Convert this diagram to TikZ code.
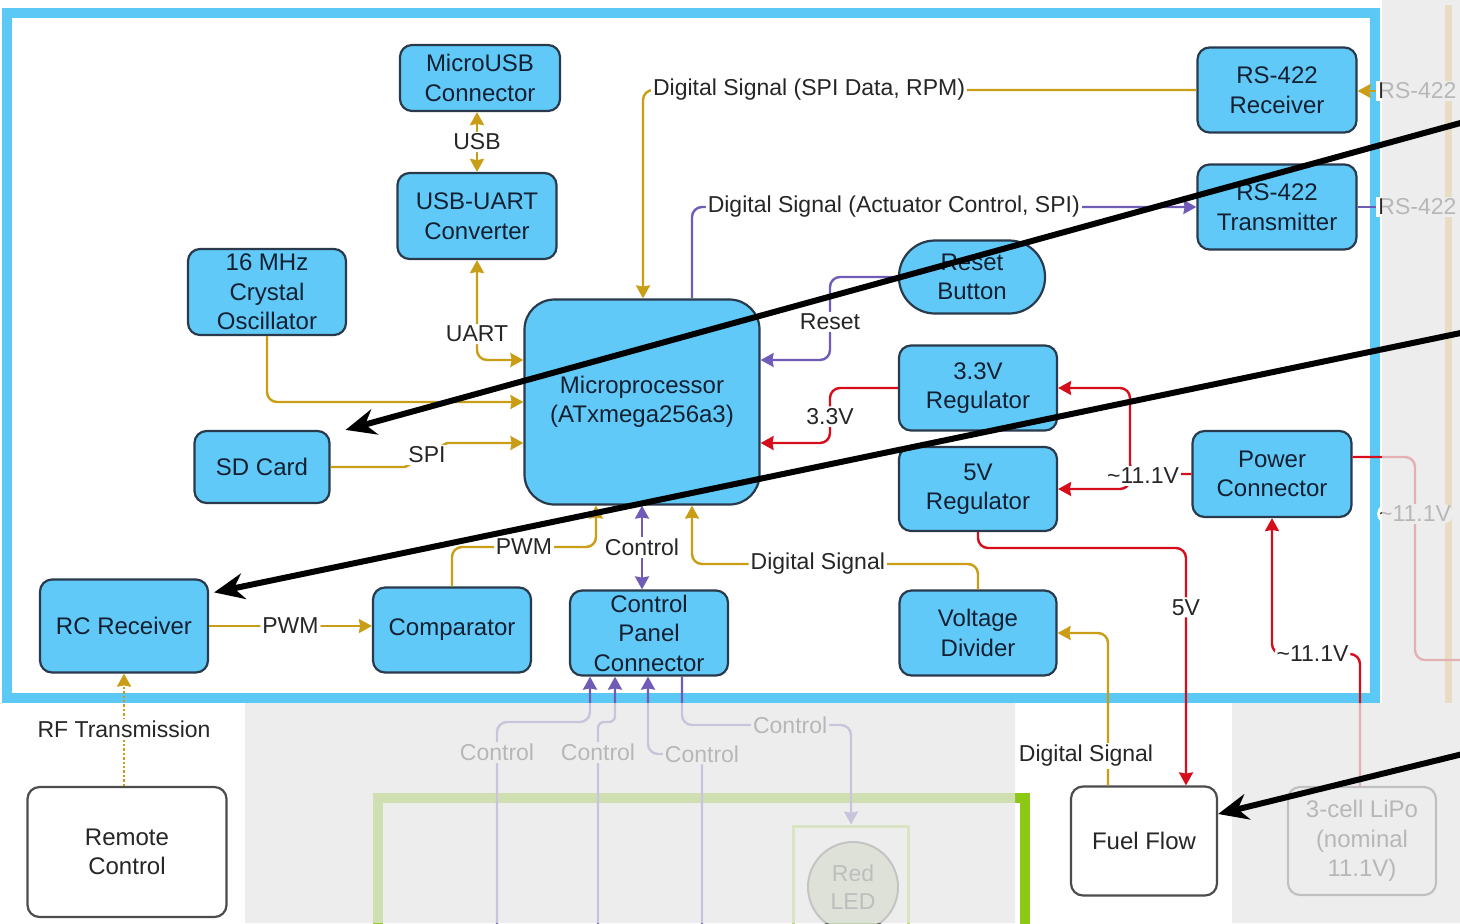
\documentclass[tikz,border=0pt]{standalone}
\usepackage{fontspec}
\setmainfont{Liberation Sans}
\usetikzlibrary{arrows.meta}

\definecolor{boxblue}{RGB}{96,201,247}
\definecolor{boxline}{RGB}{40,58,76}
\definecolor{boxtext}{RGB}{18,32,50}
\definecolor{framecol}{RGB}{92,200,246}
\definecolor{sig}{RGB}{201,158,22}
\definecolor{ctl}{RGB}{112,92,182}
\definecolor{pwr}{RGB}{214,14,28}
\definecolor{fadegray}{RGB}{232,232,232}
\definecolor{ledgreen}{RGB}{140,200,20}
\definecolor{ledfill}{RGB}{192,208,168}
\definecolor{railtan}{RGB}{232,192,90}

\begin{document}
\begin{tikzpicture}
   [x=0.5pt, y=-0.5pt, >={Stealth[length=6.5pt,width=7pt,inset=0.6pt]},
    main node/.style={draw=boxline, fill=boxblue, text=boxtext, line width=1.1pt, rounded corners=6pt,
                      align=center, inner sep=0pt, font=\fontsize{12}{14.75}\selectfont},
    plain node/.style={main node, draw=black!70, fill=white, text=black!85},
    wire label/.style={fill=white, inner sep=1pt, text=black!85, font=\fontsize{11.5}{14}\selectfont},
    wire/.style={line width=1.2pt, rounded corners=5pt},
    pointer arrow/.style={line width=3pt, -{Stealth[length=15pt,width=13pt]}}]

   \useasboundingbox (0,0) rectangle (1460,923);
   \fill[white] (0,0) rectangle (1460,923);
   \draw[framecol, line width=5pt] (7,13) rectangle (1375,698);

   \node[main node, minimum width=80pt, minimum height=33pt] (usbconn) at (480,78) {MicroUSB\\Connector};
   \node[main node, minimum width=79.5pt, minimum height=43pt] (usbuart) at (477,216) {USB-UART\\Converter};
   \node[main node, minimum width=79pt, minimum height=43pt] (crystal) at (267,292) {16 MHz\\Crystal\\Oscillator};
   \node[main node, rounded corners=15pt, minimum width=117.5pt, minimum height=102.5pt] (micro) at (642,402) {Microprocessor\\(ATxmega256a3)};
   \node[main node, minimum width=67.5pt, minimum height=36pt] (sdcard) at (262,467) {SD Card};
   \node[main node, minimum width=84pt, minimum height=46.5pt] (rcrx) at (124,626) {RC Receiver};
   \node[main node, minimum width=79pt, minimum height=42.5pt] (comparator) at (452,630) {Comparator};
   \node[main node, minimum width=79pt, minimum height=42.5pt] (cpanel) at (649,633) {Control\\Panel\\Connector};
   \node[main node, minimum width=78.5pt, minimum height=42.5pt] (vdiv) at (978,633) {Voltage\\Divider};
   \node[main node, minimum width=79pt, minimum height=42.5pt] (reg33) at (978,388) {3.3V\\Regulator};
   \node[main node, minimum width=79pt, minimum height=42pt] (reg5) at (978,489) {5V\\Regulator};
   \node[main node, rounded corners=18pt, minimum width=73pt, minimum height=36.5pt] (reset) at (972,277) {Reset\\Button};
   \node[main node, minimum width=79.5pt, minimum height=43pt] (power) at (1272,474) {Power\\Connector};
   \node[main node, minimum width=79.5pt, minimum height=42.5pt] (rsrx) at (1277,90) {RS-422\\Receiver};
   \node[main node, minimum width=79.5pt, minimum height=42.5pt] (rstx) at (1277,207) {RS-422\\Transmitter};
   \node[plain node, minimum width=99.5pt, minimum height=65pt] (remote) at (127,852) {Remote\\Control};
   \node[plain node, minimum width=73pt, minimum height=54.5pt] (fuel) at (1144,841) {Fuel Flow};
   \node[plain node, minimum width=74pt, minimum height=54pt] (lipo) at (1362,841) {3-cell LiPo\\(nominal\\11.1V)};

   \draw[ledgreen, line width=5pt] (378,798) rectangle (1025,990);
   \node[draw=ledgreen!70, line width=1.5pt, minimum width=57.5pt, minimum height=67pt] (ledbox) at (851,893) {};
   \node[circle, draw=black!65, line width=1pt, fill=ledfill, text=black!75, minimum size=45pt, inner sep=0pt,
         align=center, font=\fontsize{11.5}{14}\selectfont] (led) at (853,887) {Red\\LED};
   \draw[railtan, line width=3.5pt] (1448,5) -- (1448,703);

   \draw[wire, sig, <->] (usbuart.north) -- node[wire label] (lusb) {USB} (usbuart.north |- usbconn.south);
   \draw[wire, sig, <->] (usbuart.south) |- node[wire label, pos=0.37] (luart) {UART} (micro.west |- 0,360);
   \draw[wire, sig, ->] (crystal.south) |- (micro.west);
   \draw[sig, line width=1.2pt, ->] (sdcard.east) -- (405,467) -- (447,443) -- (micro.west |- 0,443);
   \node[wire label] (lspi) at (427,455) {SPI};

   \draw[wire, sig, ->] (rcrx.east) -- node[wire label] (lpwma) {PWM} (comparator.west |- rcrx.east);
   \draw[wire, sig, ->] (comparator.north) |- node[wire label, pos=0.75] (lpwmb) {PWM} (596,547) -- (micro.south -| 596,0);
   \draw[wire, ctl, <->] (micro.south) -- node[wire label] (lctl) {Control} (micro.south |- cpanel.north);
   \draw[wire, sig, ->] (vdiv.north) |- node[wire label, pos=0.78] (ldiga) {Digital Signal} (692,564) -- (micro.south -| 692,0);
   \draw[wire, sig, ->] (fuel.north -| 1108,0) |- (vdiv.east);
   \node[wire label] (ldigb) at (1086,756) {Digital Signal};

   \draw[wire, sig, ->] (rsrx.west) -| node[wire label, pos=0.35] (lrx) {Digital Signal (SPI Data, RPM)} (micro.north -| 643,0);
   \draw[wire, ctl, ->] (micro.north -| 692,0) |- node[wire label, pos=0.7] (ltx) {Digital Signal (Actuator Control, SPI)} (rstx.west);
   \draw[wire, ctl, ->] (reset.west) -| node[wire label, pos=0.77] (lreset) {Reset} (830,360) -- (micro.east |- 0,360);
   \draw[wire, pwr, ->] (reg33.west) -| node[wire label, pos=0.76] (lreg) {3.3V} (830,443) -- (micro.east |- 0,443);

   \coordinate (split) at (1130,474);
   \draw[wire, pwr, ->] (power.west) -- (split) |- (reg33.east);
   \draw[wire, pwr, ->] (split) |- (reg5.east);
   \node[wire label] (lvina) at (1143,476) {\textasciitilde 11.1V};
   \draw[wire, pwr, ->] (reg5.south) |- (1186,548) -- node[wire label, pos=0.25] (lfive) {5V} (fuel.north -| 1186,0);
   \draw[wire, pwr, ->] (lipo.north -| 1360,0) |- node[wire label, pos=0.77] (lvinb) {\textasciitilde 11.1V} (power.south |- 0,654) -- (power.south);

   \coordinate (batt) at (1475,660);
   \draw[wire, pwr] ([yshift=8.5pt]power.east) -- (1415,457) |- node[wire label, pos=0.14] (lvinc) {\textasciitilde 11.1V} (batt);
   \node[wire label, anchor=west] (rsin) at (1376,91) {RS-422};
   \node[wire label, anchor=west] (rsout) at (1376,207) {RS-422};
   \draw[wire, sig, ->] (rsin.west) -- (rsrx.east |- rsin.west);
   \draw[wire, ctl] (rstx.east) -- (rsout.west);

   \draw[sig, line width=1.2pt, densely dotted, ->] (rcrx.south |- remote.north) -- node[wire label] (lrf) {RF Transmission} (rcrx.south);

   \coordinate (ctla) at (497,940);
   \coordinate (ctlb) at (598,940);
   \coordinate (ctlc) at (702,940);
   \draw[wire, ctl, ->] (ctla) |- node[wire label, pos=0.43] (lca) {Control} (590,722) -- (cpanel.south -| 590,0);
   \draw[wire, ctl, ->, rounded corners=3pt] (ctlb) |- node[wire label, pos=0.43] (lcb) {Control} (615,722) -- (cpanel.south -| 615,0);
   \draw[wire, ctl, ->] (ctlc) |- node[wire label, pos=0.5] (lcc) {Control} (648,754) -- (cpanel.south -| 648,0);
   \draw[wire, ctl, ->] (cpanel.south -| 682,0) |- node[wire label, pos=0.82] (lcd) {Control} (ledbox.north |- 0,725) -- (ledbox.north);

   \fill[fadegray, opacity=0.75] (245,703) rectangle (1015,923) (1232,703) rectangle (1460,923) (1382,0) rectangle (1460,703);

   \coordinate (pa) at (1475,119);
   \coordinate (pb) at (1475,330);
   \coordinate (pc) at (1475,751);
   \draw[pointer arrow] (pa) -- ([xshift=7.5pt]sdcard.north east);
   \draw[pointer arrow] (pb) -- ([xshift=2.5pt,yshift=-7pt]rcrx.north east);
   \draw[pointer arrow] (pc) -- ([yshift=13.5pt]fuel.east);
\end{tikzpicture}
\end{document}
